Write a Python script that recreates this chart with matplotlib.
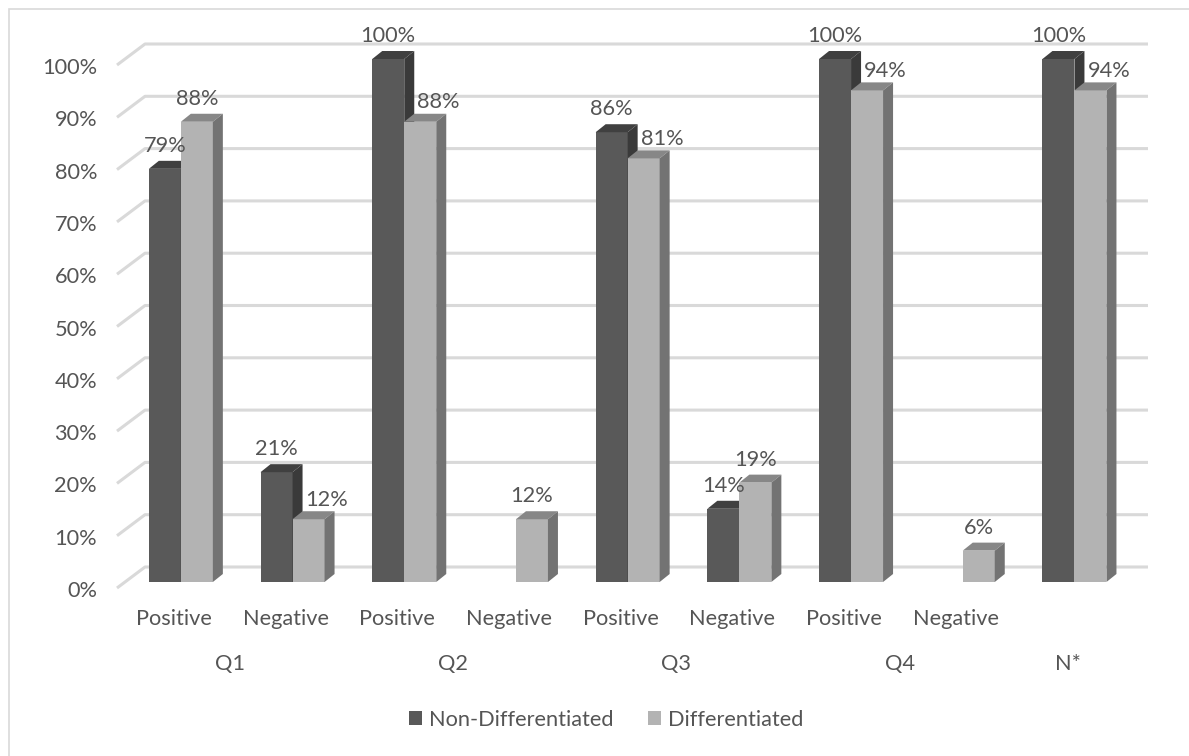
import matplotlib
matplotlib.use("Agg")
import matplotlib.pyplot as plt
from matplotlib.patches import Polygon, Rectangle, Patch

# ---------------- data ----------------
categories = ["Positive", "Negative", "Positive", "Negative", "Positive",
              "Negative", "Positive", "Negative", ""]
groups = ["Q1", "Q2", "Q3", "Q4", "N*"]
group_spans = [(0, 2), (2, 4), (4, 6), (6, 8), (8, 9)]
non_diff = [79, 21, 100, 0, 86, 14, 100, 0, 100]
diff = [88, 12, 88, 12, 81, 19, 94, 6, 94]
yticks = [0, 10, 20, 30, 40, 50, 60, 70, 80, 90, 100]
series_names = ["Non-Differentiated", "Differentiated"]

# ---------------- style ----------------
FONT = "Lato"
TXT = "#555555"
GRID = "#d9d9d9"
DARK = ("#595959", "#404040", "#3a3a3a")    # front, top, side
LIGHT = ("#b3b3b3", "#878787", "#737373")
FS = 15.7

W, H = 1189, 756
fig = plt.figure(figsize=(W / 100, H / 100), dpi=100)
fig.patch.set_facecolor("white")
ax = fig.add_axes([0, 0, 1, 1])

# pixel layout of the bar-front plane
X0, SX = 125.0, 111.7     # x pixel of category 0 start, px per category
Y0, SY = 582.0, 5.23      # y pixel of 0 %, px per percent
ax.set_xlim(-X0 / SX, (W - X0) / SX)
ax.set_ylim((Y0 - H) / SY, Y0 / SY)
ax.axis("off")


def dx(px):
    return px / SX


def dy(px):
    return px / SY


# ---------------- gridlines (side wall diagonal + back wall) ----------------
gfx, gfy = dx(-8), -dy(6)      # front of grid relative to bar front plane
gbx, gby = dx(20), dy(15)      # back wall
x_right = (1148 - X0) / SX
for v in yticks:
    ax.plot([gfx, gbx, x_right], [v + gfy, v + gby, v + gby],
            color=GRID, lw=2.2, solid_capstyle="butt", zorder=1)
    ax.text(dx(97 - X0), v + gfy - dy(9), f"{v}%", ha="right", va="baseline",
            fontsize=FS, color=TXT, family=FONT)

# ---------------- 3D bars ----------------
bw = dx(32)
ddx, ddy = dx(10), dy(8)


def bar3d(x0, v, cols, z):
    front, top, side = cols
    ax.add_patch(Rectangle((x0, 0), bw, v, facecolor=front, edgecolor="none", zorder=z))
    ax.add_patch(Polygon([(x0, v), (x0 + bw, v), (x0 + bw + ddx, v + ddy), (x0 + ddx, v + ddy)],
                         closed=True, facecolor=top, edgecolor="none", zorder=z))
    ax.add_patch(Polygon([(x0 + bw, 0), (x0 + bw + ddx, ddy), (x0 + bw + ddx, v + ddy), (x0 + bw, v)],
                         closed=True, facecolor=side, edgecolor="none", zorder=z))


for i, (a, b) in enumerate(zip(non_diff, diff)):
    c = i + 0.5
    xd = c - bw
    xl = c
    z = 3 + i * 2
    if a > 0:
        bar3d(xd, a, DARK, z)
        ax.annotate(f"{a}%", xy=(xd + bw / 2, a), xytext=(0, 17), textcoords="offset pixels",
                    ha="center", va="baseline", fontsize=FS, color=TXT, family=FONT, zorder=40)
    if b > 0:
        bar3d(xl, b, LIGHT, z + 1)
        if a > b:
            ax.annotate(f"{b}%", xy=(xl + ddx, b), xytext=(3, 13.5), textcoords="offset pixels",
                        ha="left", va="baseline", fontsize=FS, color=TXT, family=FONT, zorder=40)
        else:
            ax.annotate(f"{b}%", xy=(xl + bw / 2, b), xytext=(0, 17), textcoords="offset pixels",
                        ha="center", va="baseline", fontsize=FS, color=TXT, family=FONT, zorder=40)

# ---------------- category & group labels ----------------
for i, lab in enumerate(categories):
    if lab:
        ax.text(i + 0.5 - dx(7), (Y0 - 625) / SY, lab, ha="center", va="baseline",
                fontsize=FS, color=TXT, family=FONT)
for g, (s, e) in zip(groups, group_spans):
    ax.text((s + e) / 2 - dx(7), (Y0 - 670) / SY, g, ha="center", va="baseline",
            fontsize=FS, color=TXT, family=FONT)

# ---------------- legend ----------------
handles = [Patch(facecolor=DARK[0], edgecolor="none"), Patch(facecolor=LIGHT[0], edgecolor="none")]
leg = fig.legend(handles, series_names, loc="center", bbox_to_anchor=(606 / W, 1 - 720 / H),
                 ncol=2, frameon=False, prop={"family": FONT, "size": FS},
                 handlelength=0.6, handleheight=0.6, handletextpad=0.3, columnspacing=1.6)
for t in leg.get_texts():
    t.set_color(TXT)

# ---------------- outer border ----------------
fig.add_artist(Rectangle((9 / W, -0.05), 1.2, 1 - 9 / H + 0.05, transform=fig.transFigure,
                         facecolor="none", edgecolor=GRID, lw=1.2))

fig.savefig("out.png", dpi=100, facecolor="white")
